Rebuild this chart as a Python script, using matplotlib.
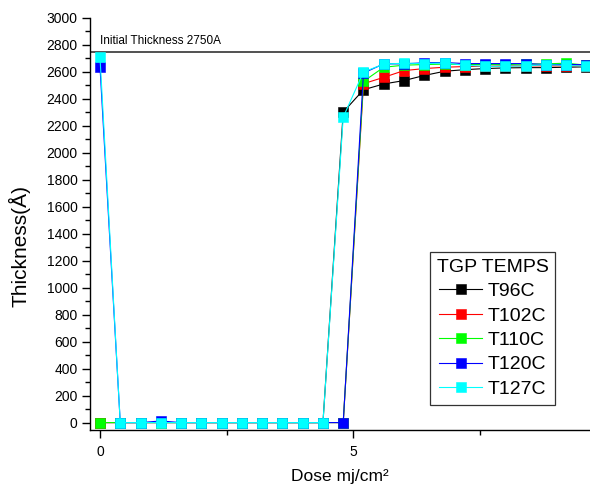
import matplotlib
matplotlib.use("Agg")
import matplotlib.pyplot as plt
from matplotlib.ticker import MultipleLocator, FixedLocator

plt.rcParams['font.family'] = ['Liberation Sans', 'DejaVu Sans']

dose = [0.0, 0.4, 0.8, 1.2, 1.6, 2.0, 2.4, 2.8, 3.2, 3.6, 4.0, 4.4, 4.8,
        5.2, 5.6, 6.0, 6.4, 6.8, 7.2, 7.6, 8.0, 8.4, 8.8, 9.2, 9.6]

t96 = [0, 0, 0, 0, 0, 0, 0, 0, 0, 0, 0, 0, 2302,
       2468, 2511, 2536, 2574, 2605, 2617, 2625, 2630, 2632, 2632, 2635, 2638]
t102 = [0, 0, 0, 0, 0, 0, 0, 0, 0, 0, 0, 0, 0,
        2513, 2560, 2610, 2625, 2635, 2640, 2642, 2645, 2645, 2645, 2645, 2645]
t110 = [0, 0, 0, 0, 0, 0, 0, 0, 0, 0, 0, 0, 0,
        2530, 2635, 2650, 2655, 2658, 2655, 2655, 2655, 2658, 2660, 2665, 2650]
t120 = [2640, 0, 0, 12, 0, 0, 0, 0, 0, 0, 0, 0, 0,
        2592, 2660, 2660, 2668, 2670, 2662, 2662, 2662, 2662, 2655, 2655, 2654]
t127 = [2710, 0, 0, 0, 0, 0, 0, 0, 0, 0, 0, 0, 2265,
        2600, 2658, 2665, 2662, 2667, 2649, 2642, 2642, 2645, 2654, 2649, 2642]

series = [("T96C", t96, "#000000"),
          ("T102C", t102, "#ff0000"),
          ("T110C", t110, "#00ff00"),
          ("T120C", t120, "#0000ff"),
          ("T127C", t127, "#00ffff")]

initial_thickness = 2750

fig = plt.figure(figsize=(5.9, 4.96), dpi=100)
ax = fig.add_axes([90/590, 66/496, 500/590, 412/496])

for name, vals, col in series:
    ax.plot(dose, vals, color=col, lw=0.8, marker='s', markersize=6.5,
            markerfacecolor=col, markeredgecolor=col, markeredgewidth=0.4,
            label=name, clip_on=False)

ax.axhline(initial_thickness, color='#222222', lw=1.1, zorder=1)
ax.text(0, 2810, "Initial Thickness 2750A", fontsize=8.5, ha='left', va='baseline')

ax.set_xlim(-0.197, 9.67)
ax.set_ylim(-55, 3000)

ax.spines['top'].set_visible(False)
ax.spines['right'].set_visible(False)
ax.spines['left'].set_linewidth(1.0)
ax.spines['bottom'].set_linewidth(1.0)

ax.xaxis.set_major_locator(FixedLocator([0, 5]))
ax.xaxis.set_minor_locator(FixedLocator([2.5, 7.5]))
ax.yaxis.set_major_locator(MultipleLocator(200))
ax.yaxis.set_minor_locator(MultipleLocator(100))
ax.tick_params(which='major', length=6, width=1.0, labelsize=10, direction='out', pad=3)
ax.tick_params(which='minor', length=3.5, width=1.0, direction='out')
ax.tick_params(axis='x', which='major', pad=5)

ax.set_xlabel("Dose mj/cm²", fontsize=12.5, labelpad=7)
ax.set_ylabel("Thickness(Å)", fontsize=15)
ax.yaxis.set_label_coords(-0.118, 0.447)

leg = ax.legend(title="TGP TEMPS", loc='upper left', bbox_to_anchor=(0.68, 0.432),
                borderaxespad=0, fontsize=14, title_fontsize=14,
                frameon=True, fancybox=False, framealpha=1, edgecolor='#333333',
                handlelength=2.2, handletextpad=0.3, labelspacing=0.35,
                borderpad=0.35)
leg.get_frame().set_linewidth(0.9)

fig.savefig("out.png", dpi=100)
